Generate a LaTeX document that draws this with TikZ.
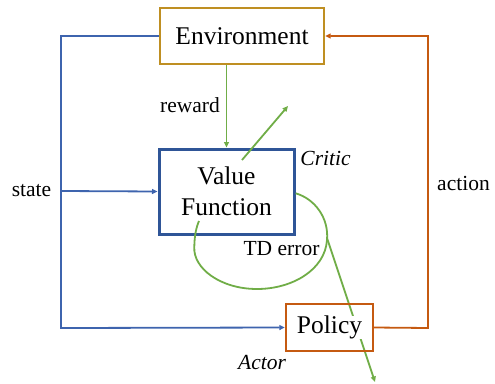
\documentclass[tikz,border=0pt]{standalone}
\usepackage{fontspec}
\setmainfont{Liberation Serif}
\usetikzlibrary{arrows.meta}
\definecolor{envgold}{HTML}{BF8F22}
\definecolor{vfblue}{HTML}{2F5597}
\definecolor{lineblue}{HTML}{3E64AE}
\definecolor{actorange}{HTML}{C55A11}
\definecolor{tdgreen}{HTML}{70AD47}
\tikzset{
  boxnode/.style={draw, rectangle, inner sep=0pt, font=\fontsize{25.5}{28}\selectfont, align=center},
  lbl/.style={font=\fontsize{21.5}{24}\selectfont, inner sep=0pt},
  tip/.style={-{Triangle[length=5.5pt,width=5pt]}},
  conn/.style={line width=1.8pt}
}
\begin{document}
\begin{tikzpicture}[x=1pt,y=-1pt]
\useasboundingbox (0,0) rectangle (495,383);
% green lines (behind nodes)
\coordinate (tdstart) at (327,238);
\coordinate (tdend) at (375,382);
\draw[conn, tdgreen, tip] (tdstart) -- (tdend);
% nodes
\node[boxnode, draw=envgold, line width=2.4pt, minimum width=164pt, minimum height=56pt] (env) at (242,36) {Environment};
\node[boxnode, draw=vfblue, line width=3pt, minimum width=135pt, minimum height=85pt] (vf) at (226.5,191.5) {Value\\[3pt]Function};
\node[boxnode, draw=actorange, line width=2.4pt, minimum width=87pt, minimum height=47pt] (pol) at (329.5,327.5) {\setlength\fboxsep{0pt}\colorbox{white}{Policy}};
% labels
\node[lbl] (rewardl) at (190,105) {reward};
\node[lbl] (statel) at (31.5,191) {state};
\node[lbl] (actionl) at (463.5,183) {action};
\node[lbl] (criticl) at (325.5,158) {\itshape Critic};
\node[lbl] (actorl) at (262,363) {\itshape Actor};
\node[lbl] (tdl) at (281.5,249) {TD error};
% state connectors
\coordinate (sTop) at (61,36);
\coordinate (sBot) at (61,328);
\coordinate (sMid) at (61,191);
\draw[conn, lineblue, tip] (env.west) -- (sTop) -- (sBot) -- (pol.west);
\draw[conn, lineblue, tip] (sMid) -- (vf.west);
% action connector
\coordinate (aBot) at (428,328);
\coordinate (aTop) at (428,36);
\draw[conn, actorange, tip] (pol.east) -- (aBot) -- (aTop) -- (env.east);
% reward
\draw[conn, tdgreen, tip] (vf.north |- env.south) -- (vf.north);
% green arrow from value function
\coordinate (vfin) at (242,160);
\coordinate (vfout) at (288,106);
\draw[conn, tdgreen, tip] (vfin) -- (vfout);
% TD error loop
\coordinate (l0) at (295.7,193.3);
\coordinate (l1) at (327,240);
\coordinate (l2) at (257,289);
\coordinate (l3) at (194.3,247);
\coordinate (l4) at (199,221);
\draw[conn, tdgreen] (l0) .. controls (315,199) and (329,218) .. (l1)
  .. controls (325,270) and (292,289) .. (l2)
  .. controls (220,289) and (193,268) .. (l3)
  .. controls (194.5,236) and (196,228) .. (l4);
\end{tikzpicture}
\end{document}
